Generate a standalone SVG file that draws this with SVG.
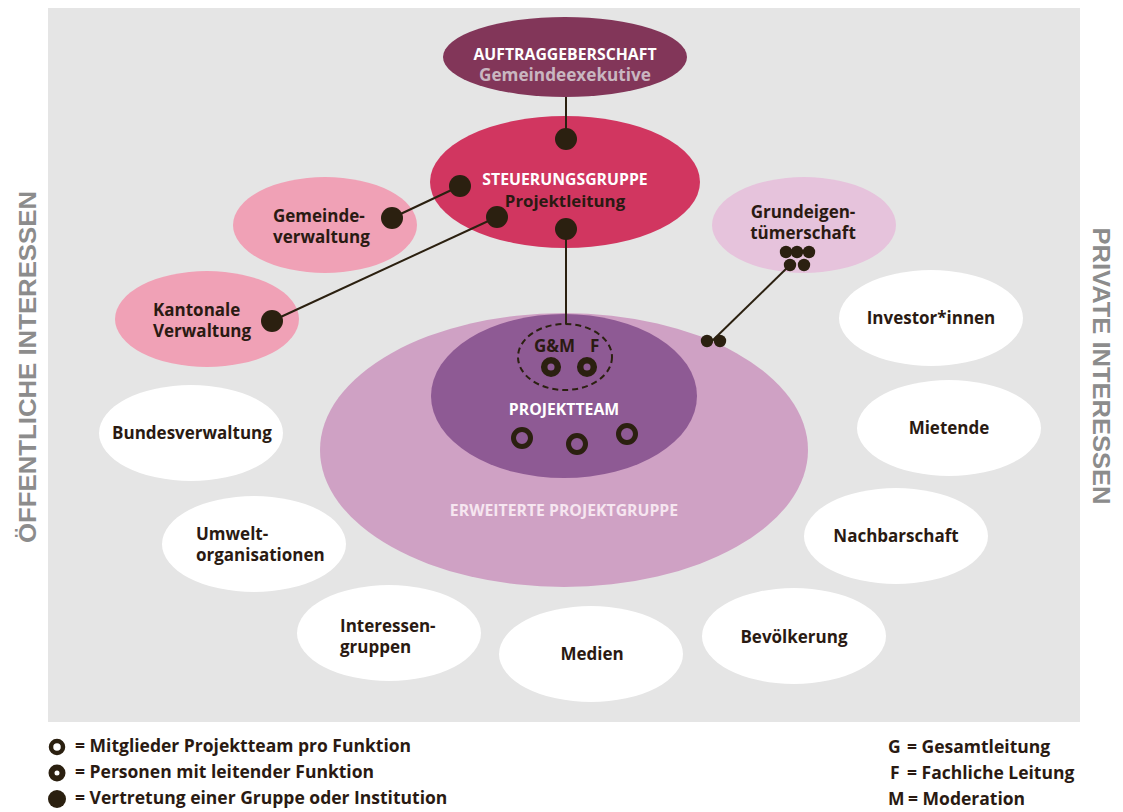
<svg xmlns="http://www.w3.org/2000/svg" width="1123" height="812" viewBox="0 0 1123 812">
<style>
text{font-family:"Open Sans","Noto Sans","DejaVu Sans",sans-serif;font-weight:700;fill:#2a1a12}
.c{text-anchor:middle}
.lbl{font-size:17px}
.leg{font-size:17.5px}
.side{font-family:"Liberation Sans","DejaVu Sans",sans-serif;font-size:24px;fill:#8c8c8c;text-anchor:middle}
.white{fill:#ffffff}
.dot{fill:#2b2010}
.line{stroke:#2b2010;stroke-width:2;fill:none}
</style>
<rect x="0" y="0" width="1123" height="812" fill="#ffffff"/>
<rect x="48" y="8" width="1032" height="714" fill="#e5e5e5"/>

<text class="side" transform="translate(36,367) rotate(-90)" textLength="352" lengthAdjust="spacingAndGlyphs">ÖFFENTLICHE INTERESSEN</text>
<text class="side" transform="translate(1093,366) rotate(90)" textLength="277" lengthAdjust="spacingAndGlyphs">PRIVATE INTERESSEN</text>

<g id="erweiterte-projektgruppe">
<ellipse cx="564" cy="450" rx="244" ry="137" fill="#cfa1c4"/>
<text class="c" x="564" y="516" style="fill:#f6e6f0;font-size:15.8px">ERWEITERTE PROJEKTGRUPPE</text>
</g>
<g id="projektteam">
<ellipse cx="564" cy="396" rx="133" ry="82" fill="#8e5a94"/>
<text class="c white" x="564" y="415" style="font-size:15.8px">PROJEKTTEAM</text>
<ellipse cx="565" cy="357" rx="47" ry="33" fill="none" stroke="#2b2010" stroke-width="2" stroke-dasharray="6,4"/>
<text class="lbl" x="534" y="352">G&amp;M</text>
<text class="lbl" x="590" y="352">F</text>
<circle cx="551" cy="367" r="6.8" fill="none" stroke="#2b2010" stroke-width="6.5"/>
<circle cx="587" cy="367" r="6.8" fill="none" stroke="#2b2010" stroke-width="6.5"/>
<circle cx="522" cy="438" r="8.5" fill="none" stroke="#2b2010" stroke-width="5"/>
<circle cx="577" cy="444" r="8.5" fill="none" stroke="#2b2010" stroke-width="5"/>
<circle cx="627" cy="434" r="8.5" fill="none" stroke="#2b2010" stroke-width="5"/>
</g>

<g id="auftraggeberschaft">
<ellipse cx="565" cy="57" rx="122" ry="40" fill="#823659"/>
<text class="c white" x="565" y="60" style="font-size:15.8px">AUFTRAGGEBERSCHAFT</text>
<text class="c" x="565" y="81" style="font-size:17.2px;fill:#c9b6c0">Gemeindeexekutive</text>
</g>
<g id="steuerungsgruppe">
<ellipse cx="565" cy="182" rx="135" ry="66" fill="#d13660"/>
<text class="c white" x="565" y="185" style="font-size:15.8px">STEUERUNGSGRUPPE</text>
<text class="c" x="565" y="207" style="font-size:16.8px">Projektleitung</text>
</g>
<g id="gemeindeverwaltung">
<ellipse cx="325" cy="225" rx="92" ry="48" fill="#f0a1b6"/>
<text class="lbl" x="273" y="222">Gemeinde-</text>
<text class="lbl" x="273" y="243">verwaltung</text>
</g>
<g id="kantonale-verwaltung">
<ellipse cx="207" cy="319" rx="92" ry="48" fill="#f0a1b6"/>
<text class="lbl" x="153" y="316">Kantonale</text>
<text class="lbl" x="153" y="337">Verwaltung</text>
</g>
<g id="grundeigentuemerschaft">
<ellipse cx="804" cy="225" rx="92" ry="48" fill="#e6c3dc"/>
<text class="c lbl" x="803" y="218">Grundeigen-</text>
<text class="c lbl" x="803" y="239">tümerschaft</text>
</g>
<g id="investorinnen">
<ellipse cx="931" cy="318" rx="92" ry="48" fill="#ffffff"/>
<text class="c lbl" x="931" y="324">Investor*innen</text>
</g>
<g id="mietende">
<ellipse cx="949" cy="428" rx="92" ry="48" fill="#ffffff"/>
<text class="c lbl" x="949" y="434">Mietende</text>
</g>
<g id="nachbarschaft">
<ellipse cx="896" cy="536" rx="92" ry="48" fill="#ffffff"/>
<text class="c lbl" x="896" y="542">Nachbarschaft</text>
</g>
<g id="bevoelkerung">
<ellipse cx="794" cy="636" rx="92" ry="48" fill="#ffffff"/>
<text class="c lbl" x="794" y="643">Bevölkerung</text>
</g>
<g id="medien">
<ellipse cx="591" cy="654" rx="92" ry="48" fill="#ffffff"/>
<text class="c lbl" x="592" y="660">Medien</text>
</g>
<g id="interessengruppen">
<ellipse cx="389" cy="633" rx="92" ry="48" fill="#ffffff"/>
<text class="lbl" x="340" y="632">Interessen-</text>
<text class="lbl" x="340" y="653">gruppen</text>
</g>
<g id="umweltorganisationen">
<ellipse cx="254" cy="544" rx="92" ry="48" fill="#ffffff"/>
<text class="lbl" x="196" y="540">Umwelt-</text>
<text class="lbl" x="196" y="561">organisationen</text>
</g>
<g id="bundesverwaltung">
<ellipse cx="191" cy="433" rx="92" ry="48" fill="#ffffff"/>
<text class="c lbl" x="192" y="439">Bundesverwaltung</text>
</g>

<g id="connectors">
<line class="line" x1="566" y1="97" x2="566" y2="139"/>
<line class="line" x1="566" y1="229" x2="566" y2="324"/>
<line class="line" x1="392" y1="218" x2="460" y2="186"/>
<line class="line" x1="272" y1="321" x2="497" y2="217"/>
<line class="line" x1="790" y1="265" x2="712" y2="341"/>
<circle class="dot" cx="566" cy="139" r="11"/>
<circle class="dot" cx="460" cy="186" r="11"/>
<circle class="dot" cx="497" cy="217" r="11"/>
<circle class="dot" cx="566" cy="229" r="11"/>
<circle class="dot" cx="392" cy="218" r="11"/>
<circle class="dot" cx="272" cy="321" r="11"/>
<circle class="dot" cx="786" cy="252" r="6.2"/>
<circle class="dot" cx="797" cy="252" r="6.2"/>
<circle class="dot" cx="809" cy="252" r="6.2"/>
<circle class="dot" cx="790" cy="265" r="6.2"/>
<circle class="dot" cx="804" cy="265" r="6.2"/>
<circle class="dot" cx="707" cy="341" r="6.2"/>
<circle class="dot" cx="720" cy="341" r="6.2"/>
</g>

<g id="legend">
<circle cx="57" cy="747" r="6" fill="none" stroke="#2b2010" stroke-width="4.5"/>
<circle cx="57" cy="773" r="5.5" fill="none" stroke="#2b2010" stroke-width="6"/>
<circle class="dot" cx="57" cy="799" r="9"/>
<text class="leg" x="75" y="752">= Mitglieder Projektteam pro Funktion</text>
<text class="leg" x="75" y="778">= Personen mit leitender Funktion</text>
<text class="leg" x="75" y="804">= Vertretung einer Gruppe oder Institution</text>
<text class="leg" x="888" y="753">G</text><text class="leg" x="907" y="753">= Gesamtleitung</text>
<text class="leg" x="890" y="779">F</text><text class="leg" x="907" y="779">= Fachliche Leitung</text>
<text class="leg" x="888" y="805">M</text><text class="leg" x="908" y="805">= Moderation</text>
</g>
</svg>
